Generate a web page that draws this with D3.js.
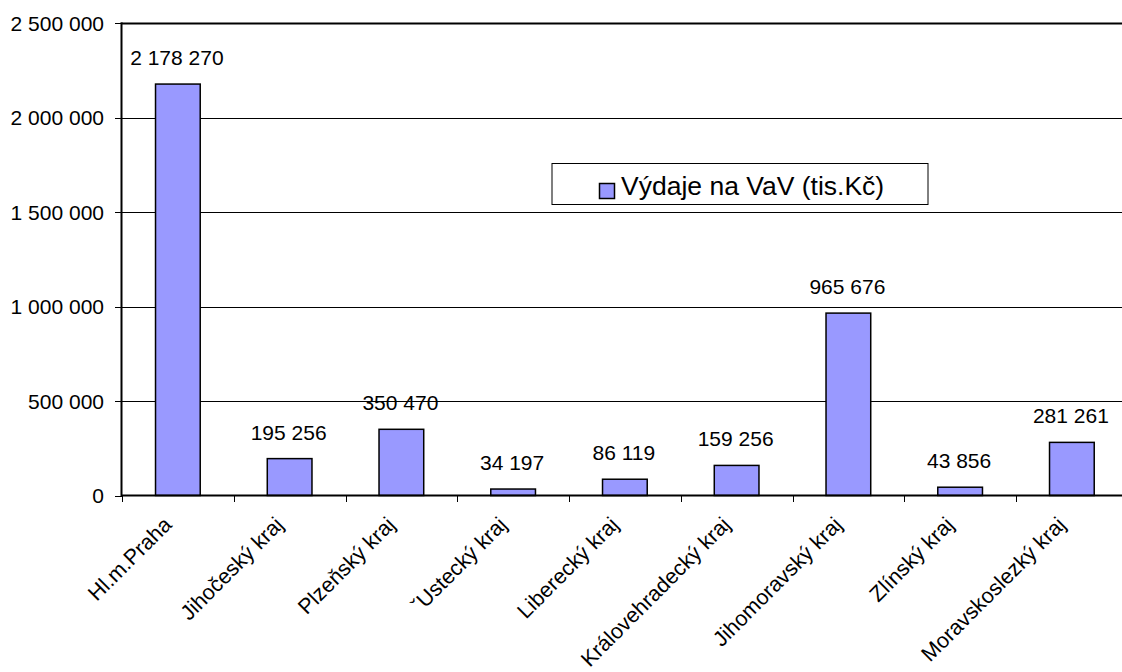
<!DOCTYPE html>
<html><head><meta charset="utf-8">
<script src="https://cdn.jsdelivr.net/npm/d3@7"></script>
<style>body{margin:0;background:#fff}svg{display:block;font-family:"Liberation Sans",Arial,sans-serif}</style>
</head><body><svg id="c" width="1122" height="672"></svg>
<script>
const categories = ["Hl.m.Praha","Jihočeský kraj","Plzeňský kraj","ˇUstecký kraj","Liberecký kraj","Královehradecký kraj","Jihomoravský kraj","Zlínský kraj","Moravskoslezký kraj"];
const values = [2178270,195256,350470,34197,86119,159256,965676,43856,281261];
const yTicks = [0,500000,1000000,1500000,2000000,2500000];
const seriesName = "Výdaje na VaV (tis.Kč)";

const svg = d3.select("#c");
const fmt = v => d3.format(",")(v).replace(/,/g," ");
const x = d3.scaleBand().domain(categories).range([122,1127.75]).padding(0);
const y = d3.scaleLinear().domain([0,2500000]).range([495.5,23.3]);
const bw = x.bandwidth()/2.5;
const FS = 21;

// gridlines
svg.append("g").selectAll("line").data(yTicks.slice(1)).join("line")
  .attr("x1",122).attr("x2",1122).attr("y1",d=>Math.round(y(d))+0.5).attr("y2",d=>Math.round(y(d))+0.5)
  .attr("stroke","#000").attr("stroke-width",d=>d===2500000?2:1);

// y ticks and labels
const yg = svg.append("g");
yg.selectAll("line").data(yTicks).join("line")
  .attr("x1",115).attr("x2",122).attr("y1",d=>Math.round(y(d))+0.5).attr("y2",d=>Math.round(y(d))+0.5)
  .attr("stroke","#000").attr("stroke-width",1);
yg.selectAll("text").data(yTicks).join("text")
  .attr("x",104).attr("y",d=>y(d)).attr("dy","0.36em").attr("text-anchor","end")
  .attr("font-size",FS).attr("fill","#000").text(d=>fmt(d));

// bars
svg.append("g").selectAll("rect").data(values).join("rect")
  .attr("x",(d,i)=>x(categories[i])+(x.bandwidth()-bw)/2)
  .attr("y",d=>y(d)).attr("width",bw).attr("height",d=>y(0)-y(d))
  .attr("fill","#9999FF").attr("stroke","#000").attr("stroke-width",1.5);

// data labels
svg.append("g").selectAll("text").data(values).join("text")
  .attr("x",(d,i)=>x(categories[i])+x.bandwidth()/2-1)
  .attr("y",d=>y(d)-19).attr("text-anchor","middle")
  .attr("font-size",FS).attr("fill","#000").text(d=>fmt(d));

// x ticks
const xb = categories.map(c=>x(c)).concat([x(categories[categories.length-1])+x.bandwidth()]);
svg.append("g").selectAll("line").data(xb).join("line")
  .attr("x1",d=>Math.round(d)+0.5).attr("x2",d=>Math.round(d)+0.5).attr("y1",495).attr("y2",502)
  .attr("stroke","#000").attr("stroke-width",1);

// axes lines
svg.append("line").attr("x1",121).attr("x2",1122).attr("y1",495.5).attr("y2",495.5).attr("stroke","#000").attr("stroke-width",2);
svg.append("line").attr("x1",121.5).attr("x2",121.5).attr("y1",22.3).attr("y2",496.5).attr("stroke","#000").attr("stroke-width",2);

// category labels
svg.append("g").selectAll("text").data(categories).join("text")
  .attr("transform",c=>`translate(${x(c)+x.bandwidth()/2-5},${526}) rotate(-45)`)
  .attr("text-anchor","end").attr("font-size",21.5).attr("fill","#000").text(c=>c);

// legend
const lg = svg.append("g");
lg.append("rect").attr("x",552).attr("y",163.5).attr("width",376).attr("height",41)
  .attr("fill","#fff").attr("stroke","#000").attr("stroke-width",1);
lg.append("rect").attr("x",599.5).attr("y",183.5).attr("width",15).attr("height",15)
  .attr("fill","#9999FF").attr("stroke","#000").attr("stroke-width",1.5);
lg.append("text").attr("x",621).attr("y",195).attr("font-size",26.5).attr("fill","#000").text(seriesName);
</script></body></html>
